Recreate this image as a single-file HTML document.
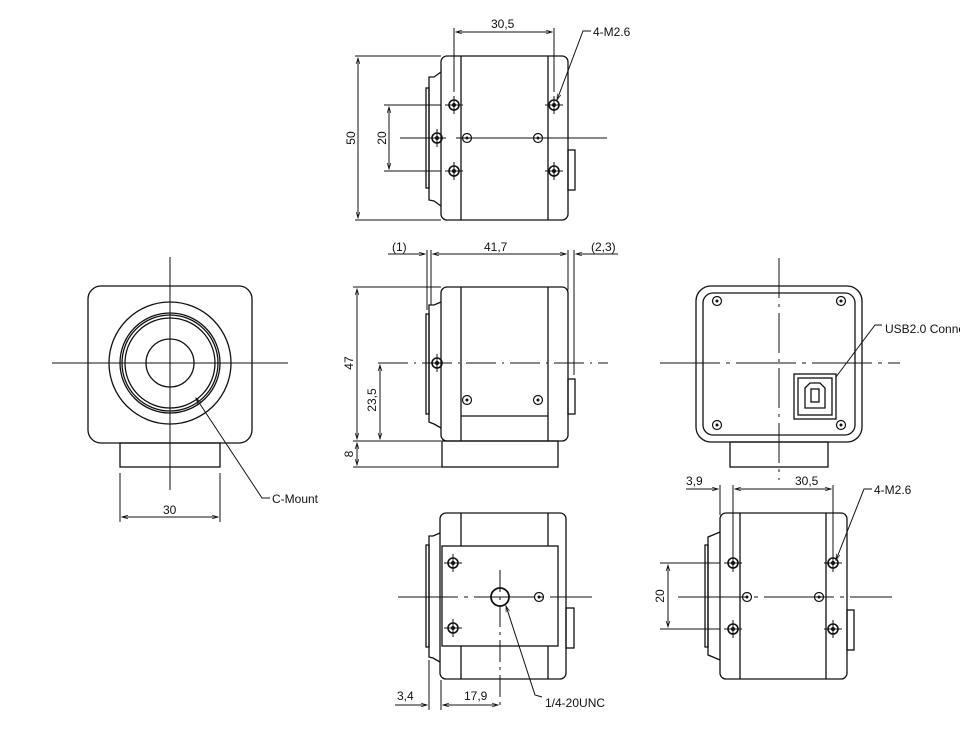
<!DOCTYPE html>
<html><head><meta charset="utf-8"><style>
html,body{margin:0;padding:0;background:#fff;}
svg{display:block;}
text{font-family:"Liberation Sans",sans-serif;font-size:12px;fill:#111;}
</style></head><body>
<svg width="960" height="734" viewBox="0 0 960 734" xmlns="http://www.w3.org/2000/svg">
<defs>
<marker id="a" viewBox="0 0 10 10" refX="10" refY="5" markerWidth="8" markerHeight="6" orient="auto-start-reverse"><path d="M0,2 L10,5 L0,8" fill="none" stroke="#111" stroke-width="1.2"/></marker>
<g id="hole"><circle r="5" fill="none" stroke="#111" stroke-width="1.6"/><circle r="2" fill="#111"/><line x1="-9" y1="0" x2="9" y2="0" stroke="#111"/><line x1="0" y1="-9" x2="0" y2="9" stroke="#111"/></g>
<g id="sm"><circle r="4.5" fill="none" stroke="#111" stroke-width="1.2"/><circle r="1.5" fill="#111"/></g>
</defs>
<g fill="none" stroke="#111" stroke-width="1.3">

<!-- TOP VIEW -->
<rect x="441" y="56" width="127" height="164" rx="6"/>
<line x1="461" y1="56" x2="461" y2="220"/><line x1="548" y1="56" x2="548" y2="220"/>
<path d="M441,72 L434,77 L429,77 L429,200 L434,201 L441,206"/>
<rect x="426" y="88" width="3" height="100"/>
<rect x="568" y="150" width="7" height="40"/>
<line x1="400" y1="138" x2="430" y2="138" stroke-width="1"/>
<line x1="456" y1="138" x2="607" y2="138" stroke-width="1"/>
<line x1="355" y1="56" x2="441" y2="56" stroke-width="1"/>
<line x1="355" y1="220" x2="441" y2="220" stroke-width="1"/>
<line x1="358" y1="58" x2="358" y2="218" stroke-width="1" marker-start="url(#a)" marker-end="url(#a)"/>
<line x1="384" y1="105" x2="441" y2="105" stroke-width="1"/>
<line x1="384" y1="171" x2="441" y2="171" stroke-width="1"/>
<line x1="389" y1="107" x2="389" y2="169" stroke-width="1" marker-start="url(#a)" marker-end="url(#a)"/>
<line x1="454" y1="28" x2="454" y2="92" stroke-width="1"/>
<line x1="554" y1="28" x2="554" y2="92" stroke-width="1"/>
<line x1="456" y1="32" x2="552" y2="32" stroke-width="1" marker-start="url(#a)" marker-end="url(#a)"/>
<polyline points="557,100 583,31 591,31" stroke-width="1" marker-start="url(#a)"/>

<!-- SIDE VIEW -->
<rect x="441" y="287" width="127" height="154" rx="6"/>
<line x1="461" y1="287" x2="461" y2="441"/><line x1="548" y1="287" x2="548" y2="441"/>
<line x1="461" y1="416" x2="548" y2="416"/>
<path d="M441,302 L434,305 L429,305 L429,422 L434,424 L441,428"/>
<rect x="426" y="314" width="3" height="100"/>
<rect x="568" y="379" width="7" height="35"/>
<rect x="442" y="441" width="116" height="26"/>
<line x1="378" y1="363" x2="608" y2="363" stroke-width="1" stroke-dasharray="30,6,2,6"/>
<line x1="353" y1="287" x2="441" y2="287" stroke-width="1"/>
<line x1="353" y1="441" x2="441" y2="441" stroke-width="1"/>
<line x1="353" y1="467" x2="442" y2="467" stroke-width="1"/>
<line x1="357" y1="289" x2="357" y2="439" stroke-width="1" marker-start="url(#a)" marker-end="url(#a)"/>
<line x1="357" y1="443" x2="357" y2="465" stroke-width="1" marker-start="url(#a)" marker-end="url(#a)"/>
<line x1="380" y1="365" x2="380" y2="439" stroke-width="1" marker-start="url(#a)" marker-end="url(#a)"/>
<line x1="427" y1="250" x2="427" y2="310" stroke-width="1"/>
<line x1="431" y1="250" x2="431" y2="305" stroke-width="1"/>
<line x1="568" y1="250" x2="568" y2="290" stroke-width="1"/>
<line x1="574" y1="250" x2="574" y2="375" stroke-width="1"/>
<line x1="388" y1="254" x2="425" y2="254" stroke-width="1" marker-end="url(#a)"/>
<line x1="433" y1="254" x2="566" y2="254" stroke-width="1" marker-start="url(#a)" marker-end="url(#a)"/>
<line x1="618" y1="254" x2="576" y2="254" stroke-width="1" marker-end="url(#a)"/>

<!-- FRONT VIEW -->
<rect x="88" y="286" width="164" height="157" rx="13"/>
<rect x="120" y="443" width="100" height="24"/>
<circle cx="170" cy="363" r="61"/>
<circle cx="170" cy="363" r="50"/>
<circle cx="170" cy="363" r="48"/>
<circle cx="170" cy="363" r="45"/>
<circle cx="170" cy="363" r="24"/>
<line x1="170" y1="257" x2="170" y2="490" stroke-width="1"/>
<line x1="52" y1="363" x2="288" y2="363" stroke-width="1"/>
<line x1="120" y1="473" x2="120" y2="522" stroke-width="1"/>
<line x1="220" y1="473" x2="220" y2="522" stroke-width="1"/>
<line x1="122" y1="517" x2="218" y2="517" stroke-width="1" marker-start="url(#a)" marker-end="url(#a)"/>
<polyline points="196,398 262,498 270,498" stroke-width="1" marker-start="url(#a)"/>

<!-- BACK VIEW -->
<rect x="696" y="286" width="166" height="156" rx="15"/>
<rect x="703" y="293" width="152" height="142" rx="10"/>
<rect x="730" y="442" width="98" height="25"/>
<rect x="794" y="374" width="42" height="45"/>
<rect x="798" y="378" width="34" height="37"/>
<path d="M805,388 L810,383 L820,383 L825,388 L825,408 L805,408 Z"/>
<rect x="811" y="389" width="8" height="13"/>
<line x1="779" y1="258" x2="779" y2="480" stroke-width="1" stroke-dasharray="40,6,3,6"/>
<line x1="660" y1="363" x2="900" y2="363" stroke-width="1" stroke-dasharray="60,6,4,6"/>
<polyline points="836,377 875,325 882,325" stroke-width="1"/>

<!-- BOTTOM VIEW -->
<rect x="440" y="513" width="126" height="166" rx="6"/>
<line x1="461" y1="513" x2="461" y2="546"/><line x1="548" y1="513" x2="548" y2="546"/>
<line x1="461" y1="646" x2="461" y2="679"/><line x1="548" y1="646" x2="548" y2="679"/>
<rect x="442" y="546" width="116" height="100"/>
<path d="M440,533 L433,536 L429,536 L429,657 L433,658 L440,662"/>
<rect x="426" y="545" width="3" height="102"/>
<rect x="566" y="608" width="8" height="40"/>
<circle cx="500" cy="597" r="9" stroke-width="1.8"/>
<line x1="398" y1="597" x2="592" y2="597" stroke-width="1" stroke-dasharray="60,6,4,6"/>
<line x1="500" y1="570" x2="500" y2="710" stroke-width="1" stroke-dasharray="22,5,3,5"/>
<line x1="429" y1="660" x2="429" y2="710" stroke-width="1"/>
<line x1="441" y1="680" x2="441" y2="710" stroke-width="1"/>
<line x1="395" y1="705" x2="427" y2="705" stroke-width="1" marker-end="url(#a)"/>
<line x1="443" y1="705" x2="498" y2="705" stroke-width="1" marker-start="url(#a)" marker-end="url(#a)"/>
<polyline points="506,606 535,695 542,697" stroke-width="1" marker-start="url(#a)"/>

<!-- RIGHT BOTTOM VIEW -->
<rect x="720" y="513" width="127" height="166" rx="6"/>
<line x1="740" y1="513" x2="740" y2="679"/><line x1="826" y1="513" x2="826" y2="679"/>
<path d="M720,532 L713,535 L708,537 L708,655 L713,657 L720,660"/>
<rect x="705" y="545" width="3" height="102"/>
<rect x="847" y="610" width="7" height="40"/>
<line x1="678" y1="597" x2="892" y2="597" stroke-width="1" stroke-dasharray="70,6,4,6"/>
<line x1="660" y1="563" x2="720" y2="563" stroke-width="1"/>
<line x1="660" y1="629" x2="720" y2="629" stroke-width="1"/>
<line x1="668" y1="565" x2="668" y2="627" stroke-width="1" marker-start="url(#a)" marker-end="url(#a)"/>
<line x1="720" y1="485" x2="720" y2="515" stroke-width="1"/>
<line x1="733" y1="485" x2="733" y2="555" stroke-width="1"/>
<line x1="833" y1="485" x2="833" y2="555" stroke-width="1"/>
<line x1="686" y1="489" x2="718" y2="489" stroke-width="1" marker-end="url(#a)"/>
<line x1="735" y1="489" x2="831" y2="489" stroke-width="1" marker-start="url(#a)" marker-end="url(#a)"/>
<polyline points="836,560 864,489 872,489" stroke-width="1" marker-start="url(#a)"/>
</g>

<!-- holes -->
<use href="#hole" x="454" y="105"/><use href="#hole" x="554" y="105"/>
<use href="#hole" x="454" y="171"/><use href="#hole" x="554" y="171"/>
<use href="#hole" x="437" y="138"/>
<use href="#sm" x="467" y="138"/><use href="#sm" x="538" y="138"/>
<use href="#hole" x="437" y="363"/>
<use href="#sm" x="467" y="400"/><use href="#sm" x="538" y="400"/>
<use href="#sm" x="717" y="301"/><use href="#sm" x="841" y="301"/>
<use href="#sm" x="717" y="425"/><use href="#sm" x="841" y="425"/>
<use href="#hole" x="453" y="563"/><use href="#hole" x="453" y="628"/>
<use href="#sm" x="539" y="597"/>
<use href="#hole" x="733" y="563"/><use href="#hole" x="833" y="563"/>
<use href="#hole" x="733" y="629"/><use href="#hole" x="833" y="629"/>
<use href="#sm" x="747" y="597"/><use href="#sm" x="819" y="597"/>

<!-- labels -->
<text x="491" y="28">30,5</text>
<text x="593" y="36">4-M2.6</text>
<text x="355" y="138" transform="rotate(-90 355 138)" text-anchor="middle">50</text>
<text x="386" y="138" transform="rotate(-90 386 138)" text-anchor="middle">20</text>
<text x="392" y="251" font-size="11">(1)</text>
<text x="484" y="251">41,7</text>
<text x="591" y="251" font-size="11">(2,3)</text>
<text x="353" y="363" transform="rotate(-90 353 363)" text-anchor="middle">47</text>
<text x="376" y="400" transform="rotate(-90 376 400)" text-anchor="middle">23,5</text>
<text x="353" y="454" transform="rotate(-90 353 454)" text-anchor="middle">8</text>
<text x="163" y="514">30</text>
<text x="272" y="503">C-Mount</text>
<text x="885" y="333">USB2.0 Conne</text>
<text x="397" y="700">3,4</text>
<text x="464" y="700">17,9</text>
<text x="545" y="707">1/4-20UNC</text>
<text x="686" y="485">3,9</text>
<text x="795" y="485">30,5</text>
<text x="874" y="494">4-M2.6</text>
<text x="664" y="596" transform="rotate(-90 664 596)" text-anchor="middle">20</text>
</svg>
</body></html>
